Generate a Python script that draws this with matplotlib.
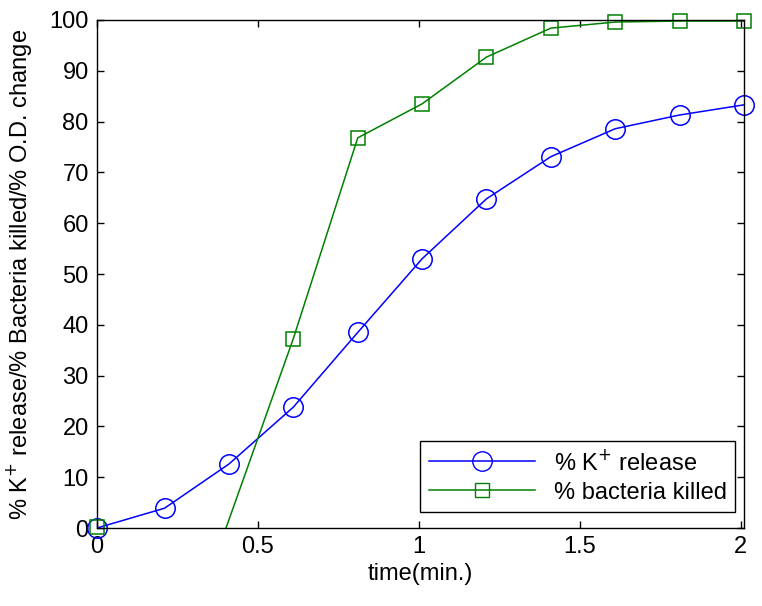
import matplotlib.pyplot as plt
import numpy as np

plt.rcParams["font.family"] = ["Liberation Sans", "DejaVu Sans"]

# data
time_k = [0, 0.21, 0.41, 0.61, 0.81, 1.01, 1.21, 1.41, 1.61, 1.81, 2.01]
k_release = [0.0, 3.9, 12.6, 23.8, 38.5, 53.0, 64.8, 73.1, 78.6, 81.3, 83.3]
time_b = [0, 0.21, 0.61, 0.81, 1.01, 1.21, 1.41, 1.61, 1.81, 2.01]
bacteria_killed = [0.2, -34.0, 37.3, 76.8, 83.5, 92.7, 98.4, 99.6, 99.8, 99.8]

x_ticks = [0, 0.5, 1, 1.5, 2]
x_tick_labels = ["0", "0.5", "1", "1.5", "2"]
y_ticks = list(range(0, 101, 10))

fig = plt.figure(figsize=(7.62, 6.06), dpi=100)
ax = fig.add_axes([0.1273, 0.1287, 0.9764 - 0.1273, 0.967 - 0.1287])

blue = "#0000ff"
green = "#008000"
fs = 17

# lines (clipped at the axes)
ax.plot(time_k, k_release, color=blue, lw=1.1)
ax.plot(time_b, bacteria_killed, color=green, lw=1.1)

# markers only where the point lies inside the axes, drawn unclipped like MATLAB
tk, kv = np.array(time_k), np.array(k_release)
tb, bv = np.array(time_b), np.array(bacteria_killed)
ax.plot(tk[kv >= 0], kv[kv >= 0], ls="none", marker="o",
        ms=14, mfc="none", mec=blue, mew=1.1, clip_on=False)
ax.plot(tb[bv >= 0], bv[bv >= 0], ls="none", marker="s",
        ms=10, mfc="none", mec=green, mew=1.1, clip_on=False)

# legend proxies
h1, = ax.plot([], [], color=blue, lw=1.1, marker="o", ms=14, mfc="none", mec=blue)
h2, = ax.plot([], [], color=green, lw=1.1, marker="s", ms=10, mfc="none", mec=green)
leg = ax.legend([h1, h2], ["% K$^{+}$ release", "% bacteria killed"],
                loc="lower right", bbox_to_anchor=(0.986, 0.0315),
                fontsize=fs, handlelength=4.5, handletextpad=0.8,
                borderpad=0.35, labelspacing=0.3, fancybox=False,
                edgecolor="black", framealpha=1, borderaxespad=0)
leg.get_frame().set_linewidth(1.0)

ax.set_xlim(0, 2.01)
ax.set_ylim(0, 100)
ax.set_xticks(x_ticks)
ax.set_xticklabels(x_tick_labels)
ax.set_yticks(y_ticks)
ax.tick_params(direction="in", labelsize=fs, length=5, width=1.0,
               top=True, right=True, pad=6)
for s in ax.spines.values():
    s.set_linewidth(1.0)

ax.set_xlabel("time(min.)", fontsize=fs, labelpad=3)
ax.set_ylabel("% K$^{+}$ release/% Bacteria killed/% O.D. change",
              fontsize=fs, labelpad=11)

fig.savefig("out.png", dpi=100)
